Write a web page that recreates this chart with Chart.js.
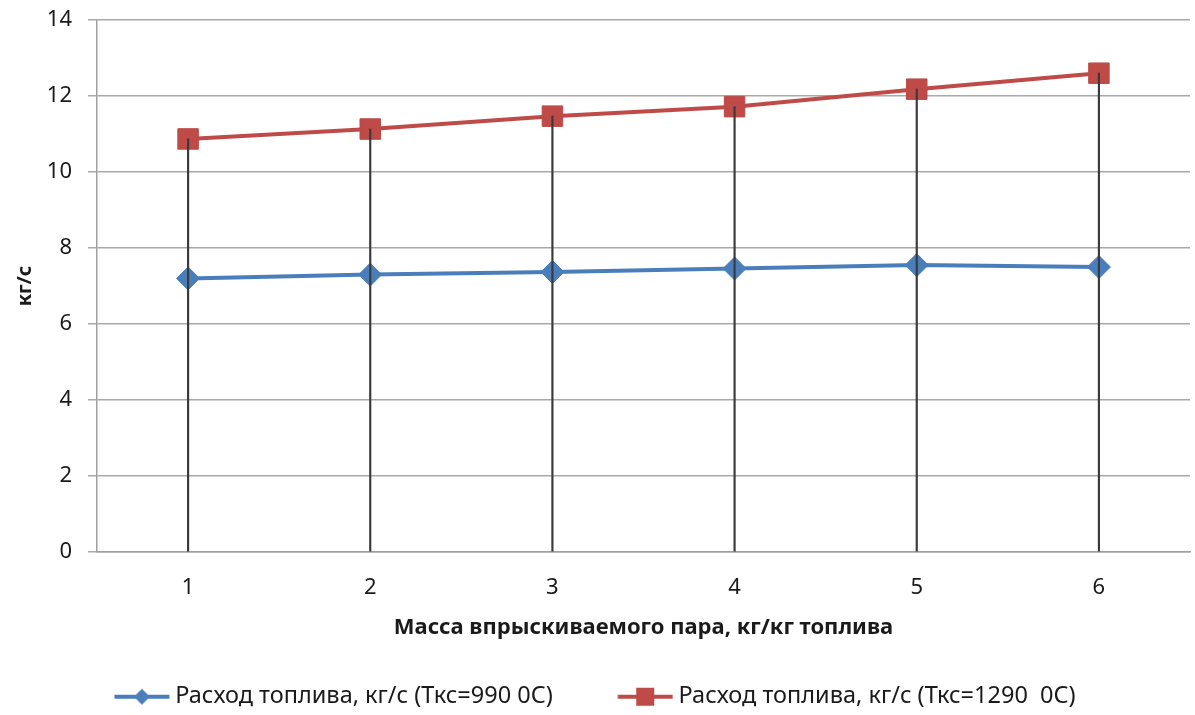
<!DOCTYPE html>
<html>
<head>
<meta charset="utf-8">
<script src="https://cdn.jsdelivr.net/npm/chart.js@4.4.0/dist/chart.umd.min.js"></script>
<style>
  html, body { margin: 0; padding: 0; background: #fff; }
  #wrap { width: 1195px; height: 715px; }
</style>
</head>
<body>
<div id="wrap"><canvas id="c" width="1195" height="715"></canvas></div>
<script>
// Steam injection mass per kg of fuel (x) vs. fuel consumption, kg/s
const categories = ['1', '2', '3', '4', '5', '6'];
const fuel990 = [7.20, 7.30, 7.37, 7.46, 7.55, 7.50];
const fuel1290 = [10.87, 11.13, 11.47, 11.72, 12.18, 12.60];
const yTicks = [0, 2, 4, 6, 8, 10, 12, 14];
const seriesNames = ['Расход топлива, кг/с (Ткс=990 0С)', 'Расход топлива, кг/с (Ткс=1290  0С)'];
const axisTitleX = 'Масса впрыскиваемого пара, кг/кг топлива';
const axisTitleY = 'кг/с';

const BLUE = '#4a7ebb';
const RED = '#be4b48';
const TEXT = '#1a1a1a';
const FONT = "'Noto Sans', sans-serif";

// Legend swatch: a short line with the series marker in its middle.
// The image is centred on the legend box, so the line starts at the box's left edge.
const BOX_W = 49;
function swatch(color, shape) {
  const c = document.createElement('canvas');
  c.width = 120; c.height = 24;
  const g = c.getContext('2d');
  const x0 = 60 - BOX_W / 2, x1 = x0 + 55, mx = (x0 + x1) / 2, my = 12;
  g.strokeStyle = color; g.lineWidth = 4;
  g.beginPath(); g.moveTo(x0, my); g.lineTo(x1, my); g.stroke();
  g.fillStyle = color;
  g.beginPath();
  if (shape === 'diamond') {
    g.moveTo(mx, my - 8); g.lineTo(mx + 8, my); g.lineTo(mx, my + 8); g.lineTo(mx - 8, my);
  } else {
    g.rect(mx - 9, my - 9, 18, 18);
  }
  g.closePath(); g.fill();
  return c;
}
const swatches = [swatch(BLUE, 'diamond'), swatch(RED, 'square')];

// Drop lines from each upper-series point down to the axis
const dropLines = fuel1290.map(v => [0, v]);

new Chart(document.getElementById('c'), {
  data: {
    labels: categories,
    datasets: [
      {
        type: 'line', label: seriesNames[0], data: fuel990,
        borderColor: BLUE, backgroundColor: BLUE, borderWidth: 4,
        pointStyle: 'rectRot', pointRadius: 11.5, pointHoverRadius: 11.5,
        pointBorderWidth: 1, tension: 0, order: 3
      },
      {
        type: 'line', label: seriesNames[1], data: fuel1290,
        borderColor: RED, backgroundColor: RED, borderWidth: 4,
        pointStyle: 'rect', pointRadius: 14.5, pointHoverRadius: 14.5,
        pointBorderWidth: 1, tension: 0, order: 2
      },
      {
        type: 'bar', label: 'drop', data: dropLines,
        backgroundColor: '#3a3a3a', borderWidth: 0,
        barThickness: 1.5, order: 1
      }
    ]
  },
  options: {
    responsive: false,
    animation: false,
    events: [],
    layout: { autoPadding: false, padding: { top: 20, right: 5, left: 0, bottom: -3.5 } },
    plugins: {
      tooltip: { enabled: false },
      legend: {
        position: 'bottom',
        labels: {
          font: { family: FONT, size: 23.5 },
          color: TEXT,
          usePointStyle: true,
          pointStyleWidth: BOX_W,
          padding: 65,
          generateLabels: chart => chart.data.datasets.slice(0, 2).map((d, i) => ({
            text: d.label, pointStyle: swatches[i], fillStyle: d.borderColor,
            strokeStyle: d.borderColor, lineWidth: 0, datasetIndex: i, hidden: false,
            fontColor: TEXT
          }))
        }
      }
    },
    scales: {
      x: {
        type: 'category',
        offset: true,
        afterFit: s => { s.height = 68; },
        grid: { display: false },
        border: { display: true, color: '#a0a0a0', width: 1.5 },
        ticks: { font: { family: FONT, size: 22 }, color: TEXT, padding: 14.5 },
        title: {
          display: true, text: axisTitleX, color: TEXT,
          font: { family: FONT, size: 22, weight: 'bold' }, padding: { top: 0, bottom: -21.2 }
        }
      },
      y: {
        min: 0, max: 14,
        afterBuildTicks: s => { s.ticks = yTicks.map(v => ({ value: v })); },
        afterFit: s => { s.width = 97; s.paddingTop = 0; s.paddingBottom = 0; },
        grid: { color: '#a8a8a8', lineWidth: 1.5, tickLength: 9 },
        border: { display: true, color: '#a0a0a0', width: 1.5 },
        ticks: { font: { family: FONT, size: 22 }, color: TEXT, padding: 16 },
        title: {
          display: true, text: axisTitleY, color: TEXT,
          font: { family: FONT, size: 20, weight: 'bold' }, padding: { top: 13, bottom: 0 }
        }
      }
    }
  }
});
</script>
</body>
</html>
